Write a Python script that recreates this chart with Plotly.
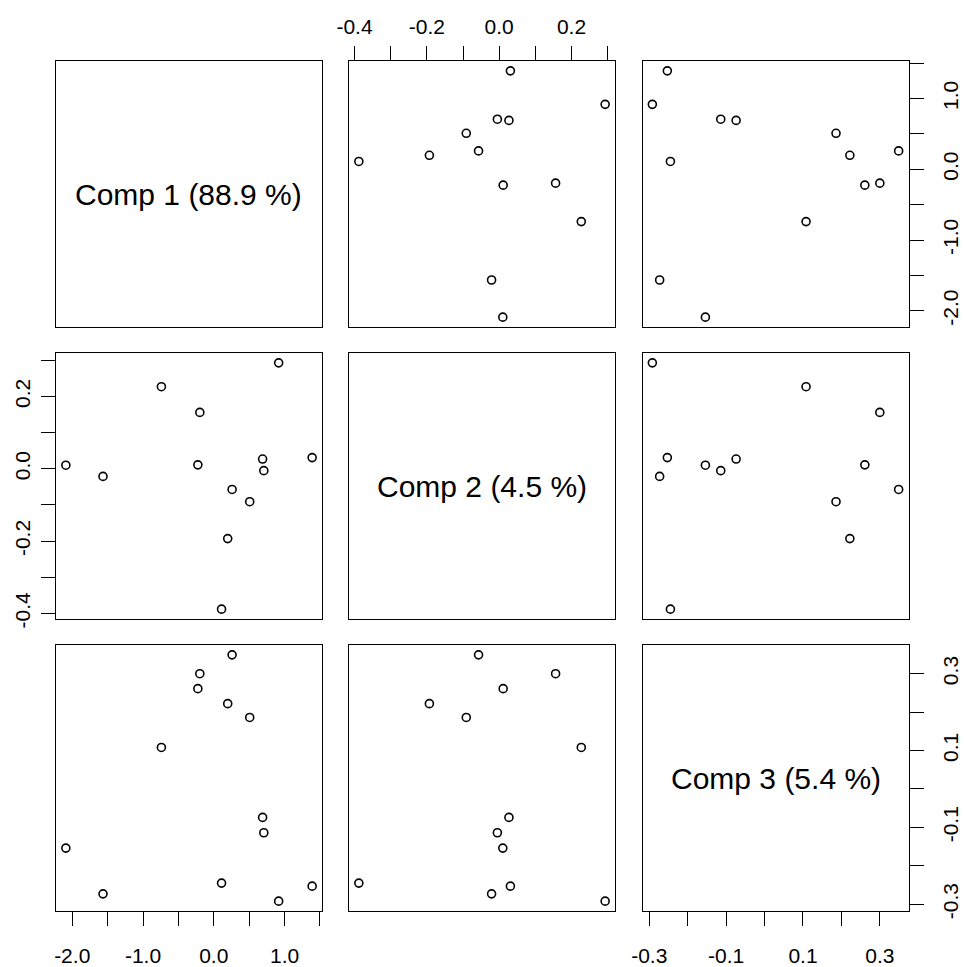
import plotly.graph_objects as go

# ---- data ----
comp1 = [-2.09, -1.565, -0.74, -0.197, -0.225, 0.69, 0.707, 1.39, 0.917, 0.259, 0.508, 0.197, 0.11]
comp2 = [0.010, -0.021, 0.227, 0.156, 0.011, 0.027, -0.005, 0.031, 0.293, -0.057, -0.091, -0.193, -0.388]
comp3 = [-0.154, -0.273, 0.108, 0.300, 0.261, -0.074, -0.114, -0.253, -0.292, 0.349, 0.186, 0.222, -0.245]

var_names = ["Comp 1 (88.9 %)", "Comp 2 (4.5 %)", "Comp 3 (5.4 %)"]

comp1_ticks = [-2.0, -1.5, -1.0, -0.5, 0.0, 0.5, 1.0, 1.5]
comp1_labels = ["-2.0", "", "-1.0", "", "0.0", "", "1.0", ""]
comp2_ticks = [-0.4, -0.3, -0.2, -0.1, 0.0, 0.1, 0.2, 0.3]
comp2_labels = ["-0.4", "", "-0.2", "", "0.0", "", "0.2", ""]
comp3_ticks = [-0.3, -0.2, -0.1, 0.0, 0.1, 0.2, 0.3]
comp3_labels = ["-0.3", "", "-0.1", "", "0.1", "", "0.3"]

data = [comp1, comp2, comp3]
ticks = [comp1_ticks, comp2_ticks, comp3_ticks]
labels = [comp1_labels, comp2_labels, comp3_labels]

W, H = 964, 967
col_px = [(56, 322), (349, 615), (642.5, 908.5)]
row_px = [(61, 327), (353, 619), (645, 911)]

def rng(v):
    lo, hi = min(v), max(v)
    d = (hi - lo) * 0.04
    return [lo - d, hi + d]

ranges = [rng(v) for v in data]

FONT = "Liberation Sans, Arial, sans-serif"
TICKFONT = dict(family=FONT, size=21, color="black")

fig = go.Figure()
layout = dict(width=W, height=H, margin=dict(l=0, r=0, t=0, b=0, pad=0, autoexpand=False),
              paper_bgcolor="white", plot_bgcolor="white", showlegend=False,
              annotations=[])

for r in range(3):
    for c in range(3):
        k = r * 3 + c + 1
        xa = "xaxis" if k == 1 else f"xaxis{k}"
        ya = "yaxis" if k == 1 else f"yaxis{k}"
        xs = "x" if k == 1 else f"x{k}"
        ys = "y" if k == 1 else f"y{k}"
        xdom = [col_px[c][0] / W, col_px[c][1] / W]
        ydom = [1 - row_px[r][1] / H, 1 - row_px[r][0] / H]

        xax = dict(domain=xdom, anchor=ys, range=ranges[c], showgrid=False, zeroline=False,
                   showline=True, mirror=True, linecolor="black", linewidth=1,
                   ticks="", showticklabels=False, fixedrange=True, automargin=False)
        yax = dict(domain=ydom, anchor=xs, range=ranges[r], showgrid=False, zeroline=False,
                   showline=True, mirror=True, linecolor="black", linewidth=1,
                   ticks="", showticklabels=False, fixedrange=True, automargin=False)

        if (r == 0 and c % 2 == 1) or (r == 2 and c % 2 == 0):
            xax.update(side="top" if r == 0 else "bottom", ticks="outside", ticklen=14,
                       tickwidth=1, tickcolor="black", tickvals=ticks[c], ticktext=labels[c],
                       showticklabels=True, tickfont=TICKFONT,
                       ticklabelstandoff=4 if r == 0 else 12)
        if (c == 0 and r % 2 == 1) or (c == 2 and r % 2 == 0):
            yax.update(side="left" if c == 0 else "right", ticks="outside", ticklen=14,
                       tickwidth=1, tickcolor="black", tickvals=ticks[r], ticktext=labels[r],
                       showticklabels=True, tickfont=TICKFONT, tickangle=-90,
                       ticklabelstandoff=3 if c == 0 else 9)

        layout[xa] = xax
        layout[ya] = yax

        if r == c:
            layout["annotations"].append(dict(
                text=var_names[r], xref=f"{xs} domain", yref=f"{ys} domain",
                x=0.5, y=0.5, showarrow=False, xanchor="center", yanchor="middle",
                font=dict(family=FONT, size=30, color="black")))
            # empty trace so the diagonal panel (frame) is created
            fig.add_trace(go.Scatter(x=[], y=[], xaxis=xs, yaxis=ys, mode="markers",
                                     hoverinfo="skip"))
        else:
            fig.add_trace(go.Scatter(
                x=data[c], y=data[r], xaxis=xs, yaxis=ys, mode="markers",
                marker=dict(symbol="circle-open", size=8, color="black",
                            line=dict(width=1.6, color="black")),
                hoverinfo="skip"))

fig.update_layout(**layout)
fig.write_html("out.html", config={"displayModeBar": False},
               post_script="document.body.style.margin='0';document.body.style.overflow='hidden';")
